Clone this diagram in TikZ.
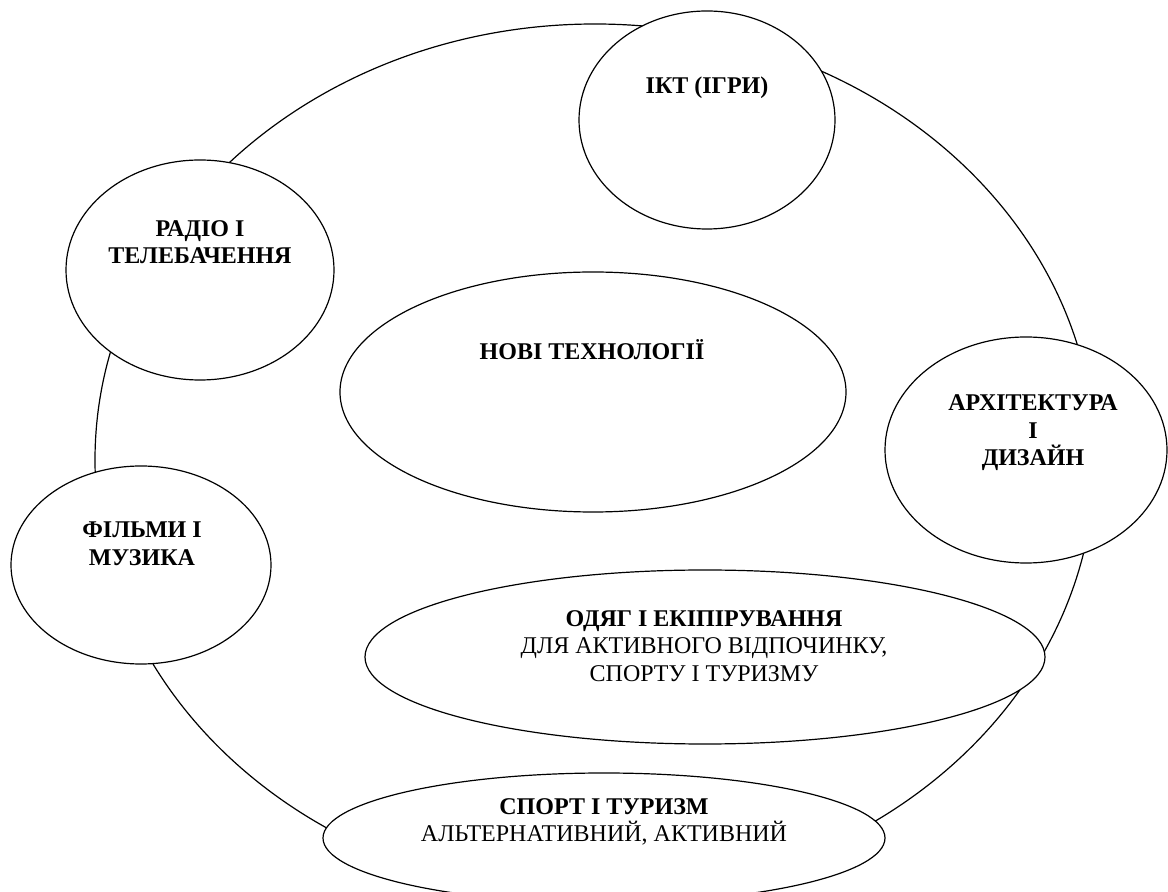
\documentclass[tikz,border=0pt]{standalone}
\usepackage{fontspec}
\setmainfont{Liberation Serif}
\usetikzlibrary{shapes.geometric}
\usetikzlibrary{positioning}
\tikzset{
  bubble/.style 2 args = {
    ellipse, draw, fill = white, line width = 0.6pt, inner sep = 0pt,
    minimum width = #1, minimum height = #2  }
}
\begin{document}
\begin{tikzpicture}[x=0.5pt,y=-0.5pt,
title_style/.style={align=center,font=\fontsize{12}{13.8}\selectfont\bfseries},
text_style/.style={align=center,font=\fontsize{12}{13.8}\selectfont}]
\useasboundingbox (0,0) rectangle (1168,892);

% the big ring
\node[bubble={500pt}{436pt}] (main) at (595,460) {};

% the areas round it
\node[bubble={128pt}{109pt}] (ikt) at (707,120) {};
\node[bubble={134pt}{110pt}] (radio) at (200,270) {};
\node[bubble={253pt}{120pt}] (tech) at (593,392) {};
\node[bubble={141pt}{113pt}] (arch) at (1026,450) {};
\node[bubble={130pt}{99pt}] (films) at (141,565) {};
\node[bubble={340pt}{87pt}] (clothes) at (705,657) {};
\node[bubble={281pt}{65pt}] (sport) at (604,838) {};

% texts
\node[title_style] (ikt_t) at (707,88) {ІКТ (ІГРИ)};
\node[title_style] (radio_t) at (200,242) {РАДІО І\\ТЕЛЕБАЧЕННЯ};
\node[title_style] (tech_t) at (592,350) {НОВІ ТЕХНОЛОГІЇ};
\node[title_style] (arch_t) at (1033,433) {АРХІТЕКТУРА\\І\\ДИЗАЙН};
\node[title_style] (films_t) at (142,544) {ФІЛЬМИ І\\МУЗИКА};
\node[text_style] (clothes_t) at (704,646) {\textbf{ОДЯГ І ЕКІПІРУВАННЯ}\\ДЛЯ АКТИВНОГО ВІДПОЧИНКУ,\\СПОРТУ І ТУРИЗМУ};
\node[text_style] (sport_t) at (604,822) {\textbf{СПОРТ І ТУРИЗМ}\\АЛЬТЕРНАТИВНИЙ, АКТИВНИЙ};
\end{tikzpicture}
\end{document}
